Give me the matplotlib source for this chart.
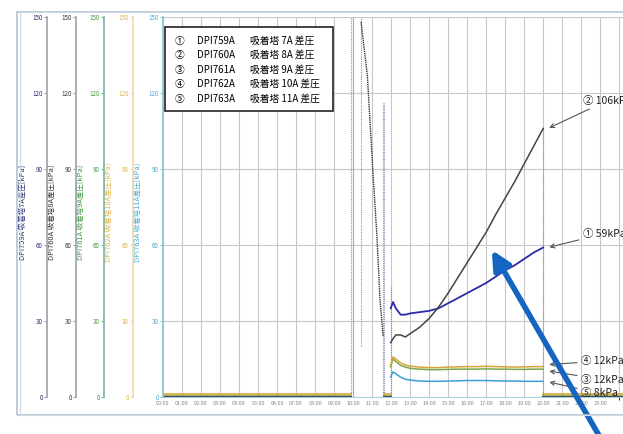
import numpy as np
import matplotlib
matplotlib.use("Agg")
from matplotlib import pyplot as plt
from matplotlib.patches import Rectangle

plt.rcParams['font.family'] = ['Noto Sans CJK JP', 'DejaVu Sans']

# ---- data (hours of day, kPa) ----
# idle level before the run and after it
t_idle = [0.0, 9.9]
t_after = [20.0, 24.2]
idle_level = [0.0, 0.0, 0.5, 1.0, 0.0]
after_level = [0.0, 0.0, 0.5, 1.2, 0.0]

# the run after 12:00
t_run = [11.98, 12.1, 12.25, 12.5, 12.75, 13.0, 13.5, 14.0, 14.5, 15.0,
         15.5, 16.0, 16.5, 17.0, 17.5, 18.0, 18.5, 19.0, 19.5, 20.0]
dpi759 = [35, 37.5, 35, 32.5, 32.5, 33, 33.5, 34, 35, 37,
          39, 41, 43, 45, 47.5, 50, 52, 54.5, 57, 59]
dpi760 = [21.5, 23, 24.5, 24.5, 23.7, 25, 27.5, 31, 35.5, 41,
          47, 53, 59, 65, 72, 78.5, 85, 92, 99, 106]
dpi761 = [12, 15, 14, 12.5, 11.8, 11.3, 11, 10.8, 10.8, 10.9,
          11, 11, 11, 11.1, 11, 11, 10.9, 10.9, 11, 11]
dpi762 = [12.6, 15.8, 15, 13.5, 12.6, 12.2, 11.8, 11.6, 11.6, 11.8,
          11.9, 12, 12, 12.1, 12, 11.9, 11.8, 11.9, 12, 12]
dpi763 = [7.9, 9.9, 9.2, 7.8, 7, 6.7, 6.3, 6.2, 6.2, 6.3,
          6.4, 6.5, 6.5, 6.5, 6.4, 6.3, 6.3, 6.2, 6.2, 6.2]

# fast drop of DPI760A between 10:25 and 11:35
t_drop = [10.42, 10.75, 11.05, 11.25, 11.42, 11.58]
v_drop = [148, 127, 88, 64, 38, 24]

# dotted jumps in the trend
gap_t = [9.9, 10.0, 10.42, 11.55, 11.62, 11.97, 20.0]
gap_hi = [150, 150, 150, 116, 116, 44, 106]
gap_lo = [0, 0, 20, 0, 0, 0, 0]

# short idle stretch before 12:00
t_pre = [11.62, 11.97]

marks = ["①", "②", "③", "④", "⑤"]
codes = ["DPI759A", "DPI760A", "DPI761A", "DPI762A", "DPI763A"]
names = ["吸着塔 7A 差圧", "吸着塔 8A 差圧", "吸着塔 9A 差圧",
         "吸着塔 10A 差圧", "吸着塔 11A 差圧"]
axis_names = ["DPI759A 吸着塔7A差圧[kPa]", "DPI760A 吸着塔8A差圧[kPa]",
              "DPI761A 吸着塔9A差圧[kPa]", "DPI762A 吸着塔10A差圧[kPa]",
              "DPI763A 吸着塔11A差圧[kPa]"]
yticks = [0, 30, 60, 90, 120, 150]
hours = list(range(0, 24))

series = [dpi759, dpi760, dpi761, dpi762, dpi763]
line_colors = ["#2b2ba8", "#444444", "#7aa84a", "#d8a43a", "#3a9fd6"]
label_colors = ["#2a2a70", "#333333", "#3f9a3f", "#e0b448", "#4aa8d4"]
spine_colors = ["#9aa2ac", "#9aa2ac", "#78b4a4", "#f0d8a4", "#88c4d4"]

W, H = 623, 434
fig = plt.figure(figsize=(W / 100, H / 100), dpi=100)

# outer frame of the trend window
fig.add_artist(Rectangle((17 / W, 1 - 415 / H), 1, (415 - 12) / H,
                         fill=False, edgecolor="#b4c2d0", lw=1.2))
fig.add_artist(Rectangle((20 / W, 1 - 415 / H), 1, (415 - 12) / H,
                         fill=False, edgecolor="#d0d8e0", lw=0.8))

ax = fig.add_axes([163 / W, 1 - 397 / H, 460 / W, 380 / H])
ax.set_xlim(0, 24.2)
ax.set_ylim(0, 150)
ax.set_xticks(hours)
ax.set_xticklabels(["%02d:00" % h for h in hours], fontsize=4, color="#888888")
ax.set_xticks(range(0, 25), minor=True)
ax.tick_params(axis='x', length=0, pad=3)
ax.grid(True, which='both', axis='x', color="#c8c8c8", lw=0.8)
ax.grid(True, axis='y', color="#c8c8c8", lw=0.8)
for s in ["top", "right"]:
    ax.spines[s].set_visible(False)
ax.spines["bottom"].set_color("#a8d0e0")

# left axes, one per tag
offsets = [-116, -87, -59, -30, 0]
label_x = [23, 52, 81, 109, 138]
for i in range(5):
    if i < 4:
        tw = ax.twinx()
        tw.set_ylim(0, 150)
        tw.yaxis.set_ticks_position('left')
        tw.spines['left'].set_visible(True)
        tw.spines['left'].set_position(('axes', offsets[i] / 460))
        for s in ["top", "right", "bottom"]:
            tw.spines[s].set_visible(False)
    else:
        tw = ax
    tw.set_yticks(yticks)
    tw.set_yticklabels([str(v) for v in yticks], fontsize=4.5, color=label_colors[i])
    tw.tick_params(axis='y', length=2, pad=1, color=spine_colors[i])
    tw.spines['left'].set_color(spine_colors[i])
    tw.spines['left'].set_linewidth(1.2)
    ax.text((label_x[i] - 163) / 460, 0.485, axis_names[i], transform=ax.transAxes,
            rotation=90, ha='center', va='center', fontsize=5.4,
            color=label_colors[i], clip_on=False)

# trends
ax.vlines(gap_t, gap_lo, gap_hi, colors="#8a90b0", linestyles=(0, (1, 1)), lw=0.8)
ax.plot(t_drop, v_drop, color="#333333", lw=1.0, ls=(0, (1, 0.6)))
for i in [2, 3, 4, 0, 1]:
    ax.plot(t_idle, [idle_level[i]] * 2, color=line_colors[i], lw=1.2)
    ax.plot(t_pre, [idle_level[i]] * 2, color=line_colors[i], lw=1.2)
    ax.plot(t_after, [after_level[i]] * 2, color=line_colors[i], lw=1.2)
    ax.plot(t_run, series[i], color=line_colors[i], lw=1.3 if i == 0 else 1.1)

# value callouts at 20:00
tip_t = 20.25
callouts = [("② 106kPa", 22.1, 117, dpi760[-1]),
            ("① 59kPa", 22.1, 64.5, dpi759[-1]),
            ("④ 12kPa", 22.0, 14.2, 12.8),
            ("③ 12kPa", 22.0, 6.9, 10.3),
            ("⑤ 8kPa", 22.0, 1.4, 6.0)]
for txt, tx, ty, tip in callouts:
    ax.annotate(txt, xy=(tip_t, tip), xytext=(tx, ty), fontsize=7.5,
                color="#222222", va='center', ha='left', annotation_clip=False,
                arrowprops=dict(arrowstyle='->', color="#555555", lw=0.8,
                                shrinkA=1, shrinkB=1))

# legend box
fig.add_artist(Rectangle((165 / W, 1 - 111 / H), 168 / W, 84 / H,
                         facecolor="white", edgecolor="#222222", lw=1.2, zorder=5))
row_y = [41, 55, 70, 84, 99]
for i in range(5):
    y = 1 - row_y[i] / H
    fig.text(180 / W, y, marks[i], fontsize=7, va='center', ha='center', zorder=6)
    fig.text(197 / W, y, codes[i], fontsize=7, va='center', ha='left', zorder=6)
    fig.text(250 / W, y, names[i], fontsize=7, va='center', ha='left', zorder=6)

# big blue pointer onto the DPI760A rise
ax.annotate('', xy=(17.3, 58), xytext=(23.0, -16), annotation_clip=False,
            arrowprops=dict(arrowstyle='-|>', color="#1565c0", lw=4,
                            mutation_scale=28, shrinkA=0, shrinkB=0))

plt.savefig("out.png", dpi=100)
